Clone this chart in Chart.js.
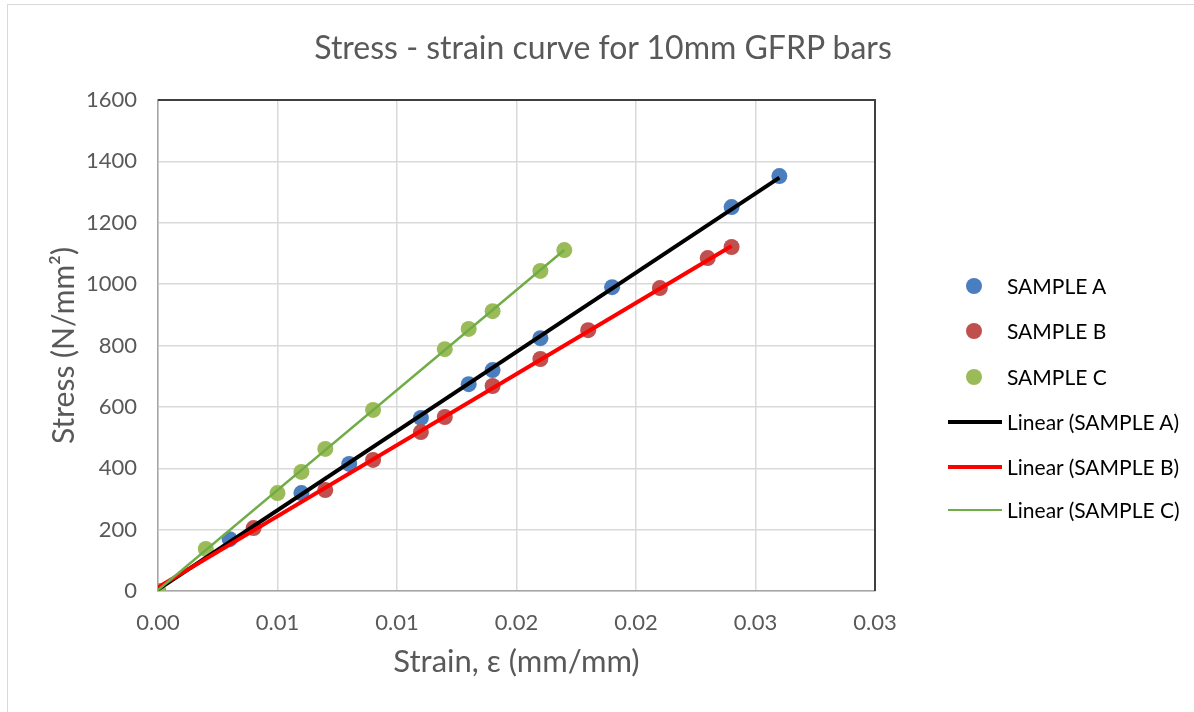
<!DOCTYPE html>
<html>
<head>
<meta charset="utf-8">
<script src="https://cdn.jsdelivr.net/npm/chart.js@4"></script>
<style>
  html, body { margin: 0; padding: 0; background: #fff; }
  #wrap { position: relative; width: 1194px; height: 712px; overflow: hidden; }
  #frame { position: absolute; left: 7px; top: 4px; width: 1300px; height: 800px;
           border-left: 1px solid #d9d9d9; border-top: 1px solid #d9d9d9; }
  canvas { position: absolute; left: 0; top: 0; }
  #title { position: absolute; left: 0; width: 1206px; top: 30px; text-align: center;
           font-family: Lato, sans-serif; font-size: 32px; line-height: 34px; color: #595959; }
  .leg { position: absolute; left: 940px; font-family: Lato, sans-serif; font-size: 21px; color: #000; }
  .leg span.txt { position: absolute; left: 67px; top: -13px; white-space: nowrap; }
  .dot { position: absolute; left: 26px; top: -8px; width: 16px; height: 16px; border-radius: 50%; }
  .ln { position: absolute; left: 8px; width: 54px; }
</style>
</head>
<body>
<div id="wrap">
  <div id="frame"></div>
  <canvas id="stressChart" width="1194" height="712"></canvas>
  <div id="title">Stress - strain curve for 10mm GFRP bars</div>
  <div id="legend"></div>
</div>
<script>
// strain (mm/mm) and stress (N/mm2)
const strainA = [0, 0.003, 0.006, 0.008, 0.011, 0.013, 0.014, 0.016, 0.019, 0.024, 0.026];
const stressA = [0, 169, 319, 414, 564, 674, 720, 824, 990, 1251, 1352];

const strainB = [0, 0.004, 0.007, 0.009, 0.011, 0.012, 0.014, 0.016, 0.018, 0.021, 0.023, 0.024];
const stressB = [0, 205, 329, 427, 518, 567, 668, 756, 850, 987, 1085, 1121];

const strainC = [0, 0.002, 0.005, 0.006, 0.007, 0.009, 0.012, 0.013, 0.014, 0.016, 0.017];
const stressC = [0, 137, 319, 388, 463, 590, 788, 854, 912, 1043, 1111];

// trendline end points as drawn on the chart
const trendStrainA = [0, 0.026];
const trendStressA = [5, 1347];
const trendStrainB = [0, 0.024];
const trendStressB = [12, 1124];
const trendStrainC = [0, 0.017];
const trendStressC = [3, 1111];

const xTicks = [0, 0.005, 0.01, 0.015, 0.02, 0.025, 0.03];
const xTickLabels = ['0.00', '0.01', '0.01', '0.02', '0.02', '0.03', '0.03'];

const seriesNames = ['SAMPLE A', 'SAMPLE B', 'SAMPLE C'];
const markerColors = ['#4a7ebf', '#c0504d', '#9bbb59'];
const trendColors = ['#000000', '#ff0000', '#70ad47'];
const trendWidths = [4, 4, 2.5];

function pts(xs, ys) {
  return xs.map((x, i) => ({ x: x, y: ys[i] }));
}

const markerData = [pts(strainA, stressA), pts(strainB, stressB), pts(strainC, stressC)];
const trendData = [pts(trendStrainA, trendStressA), pts(trendStrainB, trendStressB), pts(trendStrainC, trendStressC)];

// later series sit on top, trendlines above the markers
const datasets = [];
seriesNames.forEach((name, i) => {
  datasets.push({
    label: name,
    data: markerData[i],
    showLine: false,
    pointRadius: 8,
    pointHoverRadius: 8,
    pointBorderWidth: 0,
    backgroundColor: markerColors[i],
    borderColor: markerColors[i],
    order: 2.3 - i * 0.1
  });
});
seriesNames.forEach((name, i) => {
  datasets.push({
    label: 'Linear (' + name + ')',
    data: trendData[i],
    showLine: true,
    pointRadius: 0,
    borderColor: trendColors[i],
    borderWidth: trendWidths[i],
    backgroundColor: trendColors[i],
    order: 1.3 - i * 0.1
  });
});

// dark border on the top and right of the plot area
const plotFrame = {
  id: 'plotFrame',
  afterDatasetsDraw(chart) {
    const a = chart.chartArea;
    const c = chart.ctx;
    c.save();
    c.strokeStyle = '#404040';
    c.lineWidth = 2;
    c.beginPath();
    c.moveTo(a.left, a.top);
    c.lineTo(a.right, a.top);
    c.lineTo(a.right, a.bottom);
    c.stroke();
    c.restore();
  }
};

const tickFont = { family: 'Lato', size: 22 };
const padL = 46, padB = 31;

new Chart(document.getElementById('stressChart').getContext('2d'), {
  type: 'scatter',
  data: { datasets: datasets },
  options: {
    responsive: false,
    animation: false,
    layout: { padding: { left: padL, right: 319, top: 100, bottom: padB } },
    plugins: {
      legend: { display: false },
      tooltip: { enabled: false }
    },
    scales: {
      x: {
        type: 'linear',
        min: 0,
        max: 0.03,
        afterBuildTicks(scale) { scale.ticks = xTicks.map(v => ({ value: v })); },
        afterFit(scale) { scale.height = 712 - 591 - padB; },
        ticks: {
          color: '#595959',
          font: tickFont,
          padding: 19,
          callback: (v, i) => xTickLabels[i]
        },
        grid: { color: '#d9d9d9', lineWidth: 1.5, drawTicks: false },
        border: { color: '#a6a6a6', width: 1.5 },
        title: {
          display: true,
          text: 'Strain, ε (mm/mm)',
          color: '#595959',
          font: { family: 'Lato', size: 31 },
          padding: 0
        }
      },
      y: {
        min: 0,
        max: 1600,
        ticks: { stepSize: 200, color: '#595959', font: tickFont, padding: 21, callback: v => String(v) },
        afterFit(scale) { scale.width = 158 - padL; },
        grid: { color: '#d9d9d9', lineWidth: 1.5, drawTicks: false },
        border: { color: '#a6a6a6', width: 1.5 },
        title: {
          display: true,
          text: 'Stress (N/mm²)',
          color: '#595959',
          font: { family: 'Lato', size: 30 },
          padding: 0
        }
      }
    }
  },
  plugins: [plotFrame]
});

// legend on the right, built from the same names and colours
const legendTops = [286, 331, 377, 422, 467, 510];
const legend = document.getElementById('legend');
seriesNames.forEach((name, i) => {
  const d = document.createElement('div');
  d.className = 'leg';
  d.style.top = legendTops[i] + 'px';
  d.innerHTML = '<div class="dot" style="background:' + markerColors[i] + '"></div><span class="txt">' + name + '</span>';
  legend.appendChild(d);
});
seriesNames.forEach((name, i) => {
  const d = document.createElement('div');
  d.className = 'leg';
  d.style.top = legendTops[i + 3] + 'px';
  d.innerHTML = '<div class="ln" style="top:' + (-trendWidths[i] / 2) + 'px;height:' + trendWidths[i] + 'px;background:' + trendColors[i] + '"></div><span class="txt">Linear (' + name + ')</span>';
  legend.appendChild(d);
});
</script>
</body>
</html>
